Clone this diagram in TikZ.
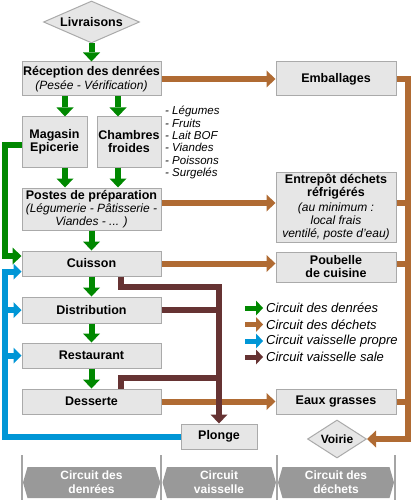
\documentclass[tikz,border=0pt]{standalone}
\usepackage{fontspec}
\setmainfont{Liberation Sans}
\usetikzlibrary{arrows.meta,shapes.geometric,calc}
\definecolor{cgreen}{RGB}{0,136,0}
\definecolor{cbrown}{RGB}{176,107,51}
\definecolor{cblue}{RGB}{0,150,214}
\definecolor{cdark}{RGB}{102,51,51}
\definecolor{boxfill}{RGB}{230,230,230}
\definecolor{boxline}{RGB}{170,170,170}
\definecolor{bandgray}{RGB}{153,153,153}
\definecolor{sepgray}{RGB}{165,165,165}
\newcommand\mysub{\mdseries\itshape\fontsize{12}{12.5}\selectfont}
\begin{document}
\begin{tikzpicture}[x=1pt,y=-1pt,
  box/.style={draw=boxline, fill=boxfill, line width=1pt, inner sep=0pt, align=center,
    font=\bfseries\fontsize{12.5}{13}\selectfont},
  dia/.style={diamond, aspect=2, draw=boxline, fill=boxfill, line width=1pt, inner sep=0pt,
    font=\bfseries\fontsize{12.5}{13}\selectfont},
  bigtip/.tip={Triangle[length=9pt 0 0,width=17pt 0 0,line width=0pt 0 0]},
  midtip/.tip={Triangle[length=8pt 0 0,width=16pt 0 0,line width=0pt 0 0]},
  legtip/.tip={Triangle[length=7pt 0 0,width=15pt 0 0,line width=0pt 0 0]},
  gline/.style={draw=cgreen, line width=6pt, line join=miter},
  garrow/.style={gline, -{bigtip}},
  bline/.style={draw=cbrown, line width=6pt, line join=miter},
  barrow/.style={bline, -{bigtip}},
  pline/.style={draw=cblue, line width=6pt, line join=miter},
  parrow/.style={pline, -{midtip}},
  sline/.style={draw=cdark, line width=6pt, line join=miter},
  sarrow/.style={sline, -{bigtip}},
  legarrow/.style={line width=5pt, -{legtip}},
  legtext/.style={anchor=west, inner sep=0pt, font=\itshape\fontsize{13}{13}\selectfont},
  bandtext/.style={align=center, text=white, inner sep=0pt, font=\bfseries\fontsize{12}{14}\selectfont}
]
\useasboundingbox (0,0) rectangle (413,500);

% nodes
\node[dia, minimum width=96pt, minimum height=42pt] (liv) at (91.5,22) {Livraisons};
\node[box, minimum width=139pt, minimum height=34pt] (rec) at (91.5,79)
  {Réception des denrées\\[1pt]{\mysub (Pesée - Vérification)}};
\node[box, minimum width=120pt, minimum height=34pt] (emb) at (336,79) {Emballages};
\node[box, minimum width=65pt, minimum height=50pt] (mag) at (54.5,142) {Magasin\\Epicerie};
\node[box, minimum width=64pt, minimum height=50pt] (cha) at (129,142) {Chambres\\froides};
\node[box, minimum width=139pt, minimum height=42pt] (pos) at (91.5,209)
  {Postes de préparation\\{\mysub (Légumerie - Pâtisserie -}\\{\mysub Viandes - ... )}};
\node[box, minimum width=120pt, minimum height=70pt] (ent) at (336,207)
  {Entrepôt déchets\\réfrigérés\\[2pt]{\mysub (au minimum :}\\{\mysub local frais}\\{\mysub ventilé, poste d'eau)}};
\node[box, minimum width=139pt, minimum height=25pt] (cui) at (91.5,263.5) {Cuisson};
\node[box, minimum width=120pt, minimum height=30pt] (pou) at (336,267) {Poubelle\\de cuisine};
\node[box, minimum width=139pt, minimum height=26pt] (dis) at (91.5,310) {Distribution};
\node[box, minimum width=139pt, minimum height=25pt] (res) at (91.5,355.5) {Restaurant};
\node[box, minimum width=139pt, minimum height=25pt] (des) at (91.5,401.5) {Desserte};
\node[box, minimum width=120pt, minimum height=25pt] (eau) at (336,401.5) {Eaux grasses};
\node[box, minimum width=76pt, minimum height=25pt] (plo) at (219,436.5) {Plonge};
\node[dia, minimum width=59pt, minimum height=38pt, font=\bfseries\fontsize{12}{13}\selectfont] (voi) at (337,439) {Voirie};

\node[anchor=north west, align=left, inner sep=0pt, font=\itshape\fontsize{11.5}{12.4}\selectfont] (lst) at (165,106)
  {- Légumes\\- Fruits\\- Lait BOF\\- Viandes\\- Poissons\\- Surgelés};

% coordinates
\coordinate (trb) at (408,439);
\coordinate (gl) at (4.5,256);
\coordinate (bl) at (4.5,271.5);
\coordinate (dt) at (219,287);
\coordinate (dd) at (219,378);

% green circuit
\draw[garrow] (liv.south) -- (rec.north);
\draw[garrow] ([xshift=10.5pt]mag.north |- rec.south) -- ([xshift=10.5pt]mag.north);
\draw[garrow] ([xshift=-11pt]cha.north |- rec.south) -- ([xshift=-11pt]cha.north);
\draw[garrow] ([xshift=10.5pt]mag.south) -- ([xshift=10.5pt]mag.south |- pos.north);
\draw[garrow] ([xshift=-11pt]cha.south) -- ([xshift=-11pt]cha.south |- pos.north);
\draw[garrow] (pos.south) -- (cui.north);
\draw[garrow] (cui.south) -- (dis.north);
\draw[garrow] (dis.south) -- (res.north);
\draw[garrow] (res.south) -- (des.north);
\draw[garrow] ([yshift=-3pt]mag.west) -| (gl) -- ([yshift=7.5pt]cui.west);

% brown circuit
\draw[barrow] (rec.east) -- (emb.west);
\draw[barrow] ([yshift=6pt]pos.east) -- ([yshift=6pt]pos.east -| ent.west);
\draw[barrow] (cui.east) -- (cui.east -| pou.west);
\draw[barrow] (des.east) -- (eau.west);
\draw[barrow] (emb.east) -| (trb) -- (voi.east);
\draw[bline] ([yshift=6pt]pos.east -| ent.east) -- ([yshift=6pt]pos.east -| trb);
\draw[bline] (cui.east -| pou.east) -- (cui.east -| trb);
\draw[bline] (eau.east) -- (eau.east -| trb);

% clean dishes
\draw[parrow] (plo.west) -| (bl) -- ([yshift=-8pt]cui.west);
\draw[parrow] (dis.west -| bl) -- (dis.west);
\draw[parrow] (res.west -| bl) -- (res.west);

% dirty dishes
\draw[sarrow] ([xshift=29.5pt]cui.south) |- (dt) -- (plo.north);
\draw[sline] (dis.east) -- (dis.east -| dt);
\draw[sline] ([xshift=29.5pt]des.north) |- (dd);

% legend
\coordinate (la1) at (245,308); \coordinate (lb1) at (263,308);
\coordinate (la2) at (245,324.5); \coordinate (lb2) at (263,324.5);
\coordinate (la3) at (245,341); \coordinate (lb3) at (263,341);
\coordinate (la4) at (245,357); \coordinate (lb4) at (263,357);
\draw[legarrow, cgreen] (la1) -- (lb1);
\draw[legarrow, cbrown] (la2) -- (lb2);
\draw[legarrow, cblue] (la3) -- (lb3);
\draw[legarrow, cdark] (la4) -- (lb4);
\node[legtext] (lt1) at (266,308) {Circuit des denrées};
\node[legtext] (lt2) at (266,324.5) {Circuit des déchets};
\node[legtext] (lt3) at (266,341) {Circuit vaisselle propre};
\node[legtext] (lt4) at (266,357) {Circuit vaisselle sale};

% bottom bands
\foreach \xx in {22,161.3,277,395} \draw[sepgray, line width=2pt] (\xx,455) -- (\xx,500);
\fill[bandgray] (23,482.5) -- (27.5,467) -- (155.5,467) -- (160.3,482.5) -- (155.5,498) -- (27.5,498) -- cycle;
\fill[bandgray] (162.5,482.5) -- (167,467) -- (271.5,467) -- (276,482.5) -- (271.5,498) -- (167,498) -- cycle;
\fill[bandgray] (278,482.5) -- (282.5,467) -- (389.5,467) -- (394,482.5) -- (389.5,498) -- (282.5,498) -- cycle;
\node[bandtext] (bt1) at (91.5,482.5) {Circuit des\\denrées};
\node[bandtext] (bt2) at (219,482.5) {Circuit\\vaisselle};
\node[bandtext] (bt3) at (336,482.5) {Circuit des\\déchets};
\end{tikzpicture}
\end{document}
